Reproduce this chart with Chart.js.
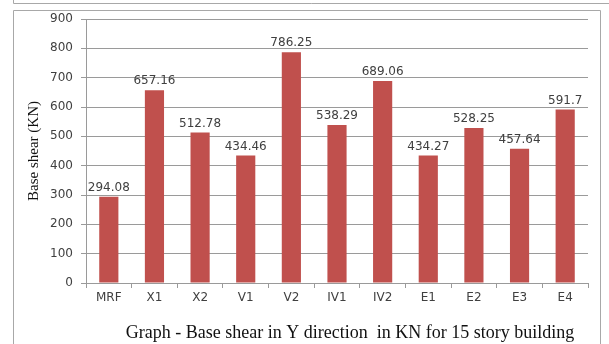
<!DOCTYPE html>
<html>
<head>
<meta charset="utf-8">
<script src="https://cdn.jsdelivr.net/npm/chart.js@4/dist/chart.umd.min.js"></script>
<style>
  html, body { margin: 0; padding: 0; background: #ffffff; }
  #wrap { width: 609px; height: 344px; position: relative; }
</style>
</head>
<body>
<div id="wrap"><canvas id="c" width="609" height="344"></canvas></div>
<script>
// Base shear per structural system (kN)
const systems = ['MRF', 'X1', 'X2', 'V1', 'V2', 'IV1', 'IV2', 'E1', 'E2', 'E3', 'E4'];
const baseShear = [294.08, 657.16, 512.78, 434.46, 786.25, 538.29, 689.06, 434.27, 528.25, 457.64, 591.7];
const yTicks = [0, 100, 200, 300, 400, 500, 600, 700, 800, 900];

const caption = 'Graph - Base shear in Y direction  in KN for 15 story building';
const axisTitle = 'Base shear (KN)';

const sans = 'DejaVu Sans';
const serif = 'Liberation Serif';
const textColor = '#404040';
const lineColor = '#9a9a9a';

// Page frame lines around the figure
const framePlugin = {
  id: 'frame',
  beforeDraw(chart) {
    const ctx = chart.ctx;
    ctx.save();
    ctx.strokeStyle = '#a8a8a8';
    ctx.lineWidth = 1;
    ctx.beginPath();
    ctx.moveTo(13.5, 0);
    ctx.lineTo(13.5, 3.5);
    ctx.lineTo(609, 3.5);
    ctx.moveTo(13.5, 344);
    ctx.lineTo(13.5, 10.5);
    ctx.lineTo(600.5, 10.5);
    ctx.lineTo(600.5, 344);
    ctx.stroke();
    ctx.restore();
  }
};

// Figure caption under the plot
const captionPlugin = {
  id: 'caption',
  afterDraw(chart) {
    const ctx = chart.ctx;
    ctx.save();
    ctx.font = '18px "' + serif + '"';
    ctx.fillStyle = '#111111';
    ctx.textAlign = 'center';
    ctx.textBaseline = 'alphabetic';
    ctx.fillText(caption, 350, 338);
    ctx.restore();
  }
};

// Value labels above each bar
const valueLabels = {
  id: 'valueLabels',
  afterDatasetsDraw(chart) {
    const ctx = chart.ctx;
    const meta = chart.getDatasetMeta(0);
    ctx.save();
    ctx.font = '12px "' + sans + '"';
    ctx.fillStyle = textColor;
    ctx.textAlign = 'center';
    ctx.textBaseline = 'bottom';
    meta.data.forEach((bar, i) => {
      ctx.fillText(String(baseShear[i]), bar.x, bar.y - 3);
    });
    ctx.restore();
  }
};

new Chart(document.getElementById('c'), {
  type: 'bar',
  data: {
    labels: systems,
    datasets: [{
      data: baseShear,
      backgroundColor: '#C0504D',
      borderWidth: 0,
      barPercentage: 0.42,
      categoryPercentage: 1.0
    }]
  },
  options: {
    responsive: false,
    animation: false,
    devicePixelRatio: 1,
    layout: { padding: { left: 0, top: 19, right: 21, bottom: 0 } },
    plugins: {
      legend: { display: false },
      tooltip: { enabled: false },
      title: { display: false }
    },
    scales: {
      x: {
        grid: {
          offset: true,
          drawOnChartArea: false,
          drawTicks: true,
          tickLength: 5,
          color: lineColor
        },
        border: { color: lineColor },
        ticks: {
          color: textColor,
          font: { family: sans, size: 12 },
          padding: 3,
          maxRotation: 0
        },
        afterFit(scale) { scale.height = 61; }
      },
      y: {
        min: 0,
        max: 900,
        afterBuildTicks(scale) { scale.ticks = yTicks.map(v => ({ value: v })); },
        grid: {
          color: lineColor,
          tickLength: 5
        },
        border: { color: lineColor },
        ticks: {
          color: textColor,
          font: { family: sans, size: 12 },
          padding: 8
        },
        title: {
          display: true,
          text: axisTitle,
          color: '#111111',
          font: { family: serif, size: 15, weight: 'normal' },
          padding: { top: 25, bottom: 0 }
        },
        afterFit(scale) { scale.width = 86; }
      }
    }
  },
  plugins: [framePlugin, captionPlugin, valueLabels]
});
</script>
</body>
</html>
